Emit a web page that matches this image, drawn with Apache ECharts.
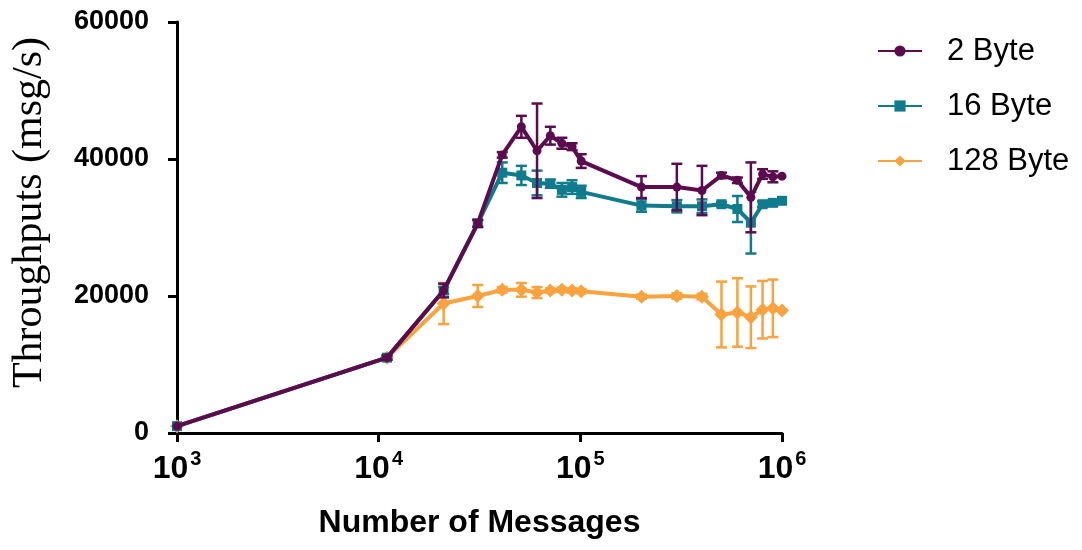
<!DOCTYPE html>
<html>
<head>
<meta charset="utf-8">
<script src="https://cdn.jsdelivr.net/npm/echarts@6/dist/echarts.min.js"></script>
<style>html,body{margin:0;padding:0;background:#fff;}#c{width:1082px;height:550px;}</style>
</head>
<body>
<div id="c"></div>
<script>
// Number of messages (x)
const messages = [1000, 11000, 21000, 31000, 41000, 51000, 61000, 71000, 81000, 91000, 101000, 201000, 301000, 401000, 501000, 601000, 701000, 801000, 901000, 1000000];
// 2 Byte
const byte2Mean = [1000, 11000, 20800, 30600, 40600, 44700, 41200, 43400, 42300, 41800, 39700, 35900, 35900, 35400, 37600, 36900, 34400, 37800, 37400, 37500];
const byte2Err  = [0, 300, 1000, 500, 400, 1600, 6900, 1300, 800, 500, 1000, 1600, 3400, 3600, 400, 400, 5100, 700, 800, 0];
// 16 Byte
const byte16Mean = [1000, 11000, 20800, 30600, 38000, 37600, 36500, 36400, 35500, 35900, 35200, 33200, 33100, 33100, 33400, 32700, 30700, 33400, 33600, 33900];
const byte16Err  = [0, 300, 500, 500, 1500, 1400, 1800, 600, 1000, 1000, 900, 900, 900, 1000, 300, 1900, 4500, 400, 400, 0];
// 128 Byte
const byte128Mean = [1000, 11000, 18900, 20000, 20900, 20900, 20500, 20800, 20900, 20800, 20700, 19900, 20000, 19900, 17300, 17600, 16900, 18000, 18200, 17900];
const byte128Err  = [0, 300, 3000, 1600, 400, 1000, 800, 300, 300, 300, 300, 300, 400, 400, 4800, 5000, 4500, 4200, 4200, 0];

const seriesNames = ['2 Byte', '16 Byte', '128 Byte'];
const yTicks = [0, 20000, 40000, 60000];

const COLORS = {'2 Byte': '#5c0b4f', '16 Byte': '#0f7b8d', '128 Byte': '#f9a240'};

function pts(means) { return messages.map((x, i) => [x, means[i]]); }
function errPts(means, errs) {
  const out = [];
  messages.forEach((x, i) => { if (errs[i] > 0) out.push([x, means[i] - errs[i], means[i] + errs[i]]); });
  return out;
}
function errRenderer(color) {
  return function (params, api) {
    const x = api.value(0), lo = api.value(1), hi = api.value(2);
    const pHi = api.coord([x, hi]), pLo = api.coord([x, lo]);
    const w = 5.5;
    const style = { stroke: color, lineWidth: 2.5 };
    return { type: 'group', children: [
      { type: 'line', shape: { x1: pHi[0], y1: pHi[1], x2: pLo[0], y2: pLo[1] }, style: style },
      { type: 'line', shape: { x1: pHi[0] - w, y1: pHi[1], x2: pHi[0] + w, y2: pHi[1] }, style: style },
      { type: 'line', shape: { x1: pLo[0] - w, y1: pLo[1], x2: pLo[0] + w, y2: pLo[1] }, style: style }
    ]};
  };
}

const defs = [
  { name: '128 Byte', mean: byte128Mean, err: byte128Err, symbol: 'diamond', size: 14, z: 2 },
  { name: '16 Byte', mean: byte16Mean, err: byte16Err, symbol: 'rect', size: 10, z: 3 },
  { name: '2 Byte', mean: byte2Mean, err: byte2Err, symbol: 'circle', size: 9, z: 4 }
];

const series = [];
defs.forEach(d => {
  const c = COLORS[d.name];
  series.push({
    name: d.name + ' err', type: 'custom', z: d.z, renderItem: errRenderer(c),
    data: errPts(d.mean, d.err), encode: { x: 0, y: [1, 2] }, silent: true
  });
  series.push({
    name: d.name, type: 'line', z: d.z, data: pts(d.mean), symbol: d.symbol, symbolSize: d.size,
    showAllSymbol: true, lineStyle: { color: c, width: 4 }, itemStyle: { color: c },
    animation: false
  });
});

const chart = echarts.init(document.getElementById('c'), null, { renderer: 'canvas' });
chart.setOption({
  animation: false,
  backgroundColor: '#fff',
  grid: { left: 177, right: 300, top: 22, bottom: 117 },
  legend: {
    data: seriesNames.map(n => ({ name: n })),
    orient: 'vertical', left: 872, top: 28,
    itemWidth: 44, itemHeight: 14, itemGap: 19,
    textStyle: { fontFamily: 'Liberation Sans, Arial, sans-serif', fontSize: 31, color: '#000', padding: [0, 0, 0, 20], lineHeight: 36 }
  },
  xAxis: {
    type: 'log', logBase: 10, min: 1000, max: 1000000,
    name: 'Number of Messages', nameLocation: 'middle', nameGap: 74,
    nameTextStyle: { fontFamily: 'Liberation Sans, Arial, sans-serif', fontWeight: 'bold', fontSize: 32, color: '#000' },
    axisLine: { lineStyle: { color: '#000', width: 3 } },
    axisTick: { show: true, length: 9, lineStyle: { color: '#000', width: 3 } },
    minorTick: { show: false },
    splitLine: { show: false },
    axisLabel: {
      margin: 16,
      formatter: function (v) { return '{b|10}{s|' + Math.round(Math.log10(v)) + '}'; },
      rich: {
        b: { fontFamily: 'Liberation Sans, Arial, sans-serif', fontWeight: 'bold', fontSize: 32, color: '#000', verticalAlign: 'bottom' },
        s: { fontFamily: 'Liberation Sans, Arial, sans-serif', fontWeight: 'bold', fontSize: 20, color: '#000', verticalAlign: 'top', padding: [0, 0, 16, 2] }
      }
    }
  },
  yAxis: {
    type: 'value', min: 0, max: 60000, interval: 20000,
    name: 'Throughputs (msg/s)', nameLocation: 'middle', nameGap: 126, nameRotate: 90,
    nameTextStyle: { fontFamily: 'Liberation Serif, Times New Roman, serif', fontSize: 42, color: '#000', padding: [0, 0, 0, 30] },
    axisLine: { show: true, lineStyle: { color: '#000', width: 3 } },
    axisTick: { show: true, length: 9, lineStyle: { color: '#000', width: 3 } },
    splitLine: { show: false },
    axisLabel: {
      margin: 28,
      fontFamily: 'Liberation Sans, Arial, sans-serif', fontWeight: 'bold', fontSize: 27, color: '#000',
      formatter: function (v) { return yTicks.indexOf(v) >= 0 ? String(v) : ''; }
    }
  },
  series: series
});
</script>
</body>
</html>
